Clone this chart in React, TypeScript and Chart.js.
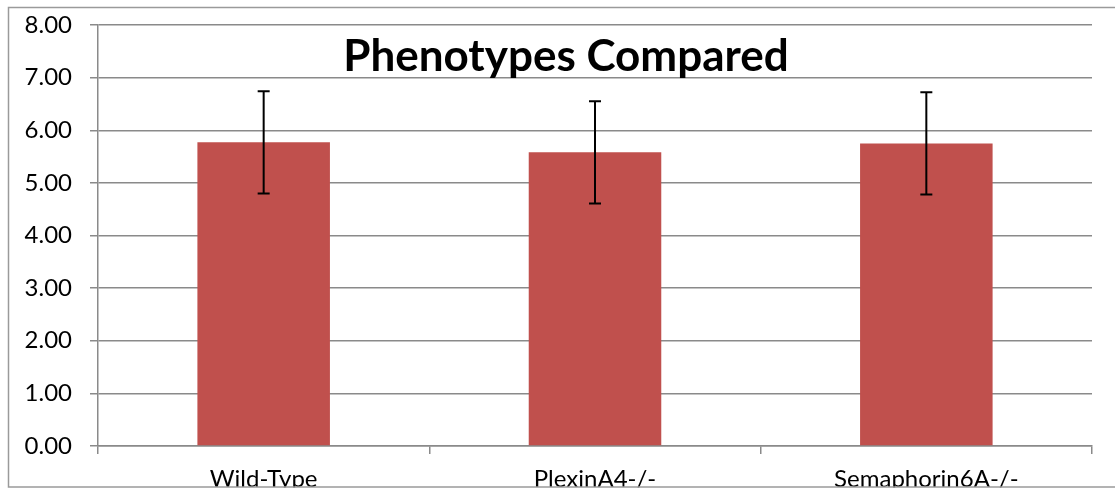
import React, { useEffect, useRef } from "react";
import { Chart, registerables } from "chart.js";

Chart.register(...registerables);

const categories = ["Wild-Type", "PlexinA4-/-", "Semaphorin6A-/-"];
const means = [5.77, 5.58, 5.75];
const errors = [0.97, 0.97, 0.97];
const yTicks = [0, 1, 2, 3, 4, 5, 6, 7, 8];
const titleText = "Phenotypes Compared";

const FONT = "Lato, 'Liberation Sans', sans-serif";
const GRID = "#8a8a8a";

const errorBarPlugin = {
  id: "errorBars",
  afterDatasetsDraw(chart: any) {
    const meta = chart.getDatasetMeta(0);
    const y = chart.scales.y;
    const ctx = chart.ctx;
    ctx.save();
    ctx.strokeStyle = "#000000";
    ctx.lineWidth = 2;
    meta.data.forEach((bar: any, i: number) => {
      const x = bar.x;
      const top = y.getPixelForValue(means[i] + errors[i]);
      const bot = y.getPixelForValue(means[i] - errors[i]);
      ctx.beginPath();
      ctx.moveTo(x, top);
      ctx.lineTo(x, bot);
      ctx.moveTo(x - 6, top);
      ctx.lineTo(x + 6, top);
      ctx.moveTo(x - 6, bot);
      ctx.lineTo(x + 6, bot);
      ctx.stroke();
    });
    ctx.restore();
  },
};

const frameTitlePlugin = {
  id: "frameTitle",
  afterDraw(chart: any) {
    const ctx = chart.ctx;
    const w = chart.width;
    const h = chart.height;
    ctx.save();
    ctx.fillStyle = "#000000";
    ctx.font = `bold 44px ${FONT}`;
    ctx.textAlign = "center";
    ctx.textBaseline = "alphabetic";
    ctx.fillText(titleText, 566, 71);
    ctx.fillStyle = "#ffffff";
    ctx.fillRect(0, 487.5, w, h - 487.5);
    ctx.strokeStyle = "#9a9a9a";
    ctx.lineWidth = 1.5;
    ctx.beginPath();
    ctx.moveTo(w, 7.5);
    ctx.lineTo(8.5, 7.5);
    ctx.lineTo(8.5, 487);
    ctx.lineTo(w, 487);
    ctx.stroke();
    ctx.restore();
  },
};

export default function App() {
  const canvasRef = useRef<HTMLCanvasElement | null>(null);

  useEffect(() => {
    document.body.style.margin = "0";
    const canvas = canvasRef.current;
    if (!canvas) return;
    Chart.defaults.font.family = FONT;
    const chart = new Chart(canvas, {
      type: "bar",
      data: {
        labels: categories,
        datasets: [
          {
            data: means,
            backgroundColor: "#C0504D",
            borderWidth: 0,
            categoryPercentage: 0.4,
            barPercentage: 1.0,
          },
        ],
      },
      options: {
        animation: false,
        responsive: false,
        maintainAspectRatio: false,
        layout: { padding: { left: 0, right: 23, top: 25, bottom: 0 } },
        plugins: {
          legend: { display: false },
          title: { display: false },
          tooltip: { enabled: false },
        },
        scales: {
          x: {
            grid: {
              display: true,
              drawOnChartArea: false,
              drawTicks: true,
              tickLength: 8,
              offset: true,
              color: GRID,
              lineWidth: 1.5,
            },
            border: { display: true, color: GRID, width: 1.5 },
            ticks: {
              color: "#000000",
              font: { size: 24, family: FONT },
              padding: 11,
              maxRotation: 0,
              autoSkip: false,
            },
            afterFit(scale: any) {
              scale.height = 43;
              scale.paddingLeft = 0;
              scale.paddingRight = 0;
            },
          },
          y: {
            min: 0,
            max: 8,
            afterBuildTicks(scale: any) {
              scale.ticks = yTicks.map((v) => ({ value: v }));
            },
            grid: {
              color: GRID,
              lineWidth: 1.5,
              tickLength: 8,
              drawTicks: true,
            },
            border: { display: true, color: GRID, width: 1.5 },
            ticks: {
              color: "#000000",
              font: { size: 24, family: FONT },
              padding: 18,
              callback: (v: any) => Number(v).toFixed(2),
            },
            afterFit(scale: any) {
              scale.width = 98;
              scale.paddingTop = 0;
              scale.paddingBottom = 0;
            },
          },
        },
      },
      plugins: [errorBarPlugin, frameTitlePlugin],
    });
    return () => chart.destroy();
  }, []);

  return (
    <div style={{ width: 1115, height: 489, background: "#ffffff" }}>
      <canvas ref={canvasRef} width={1115} height={489} style={{ display: "block" }} />
    </div>
  );
}
